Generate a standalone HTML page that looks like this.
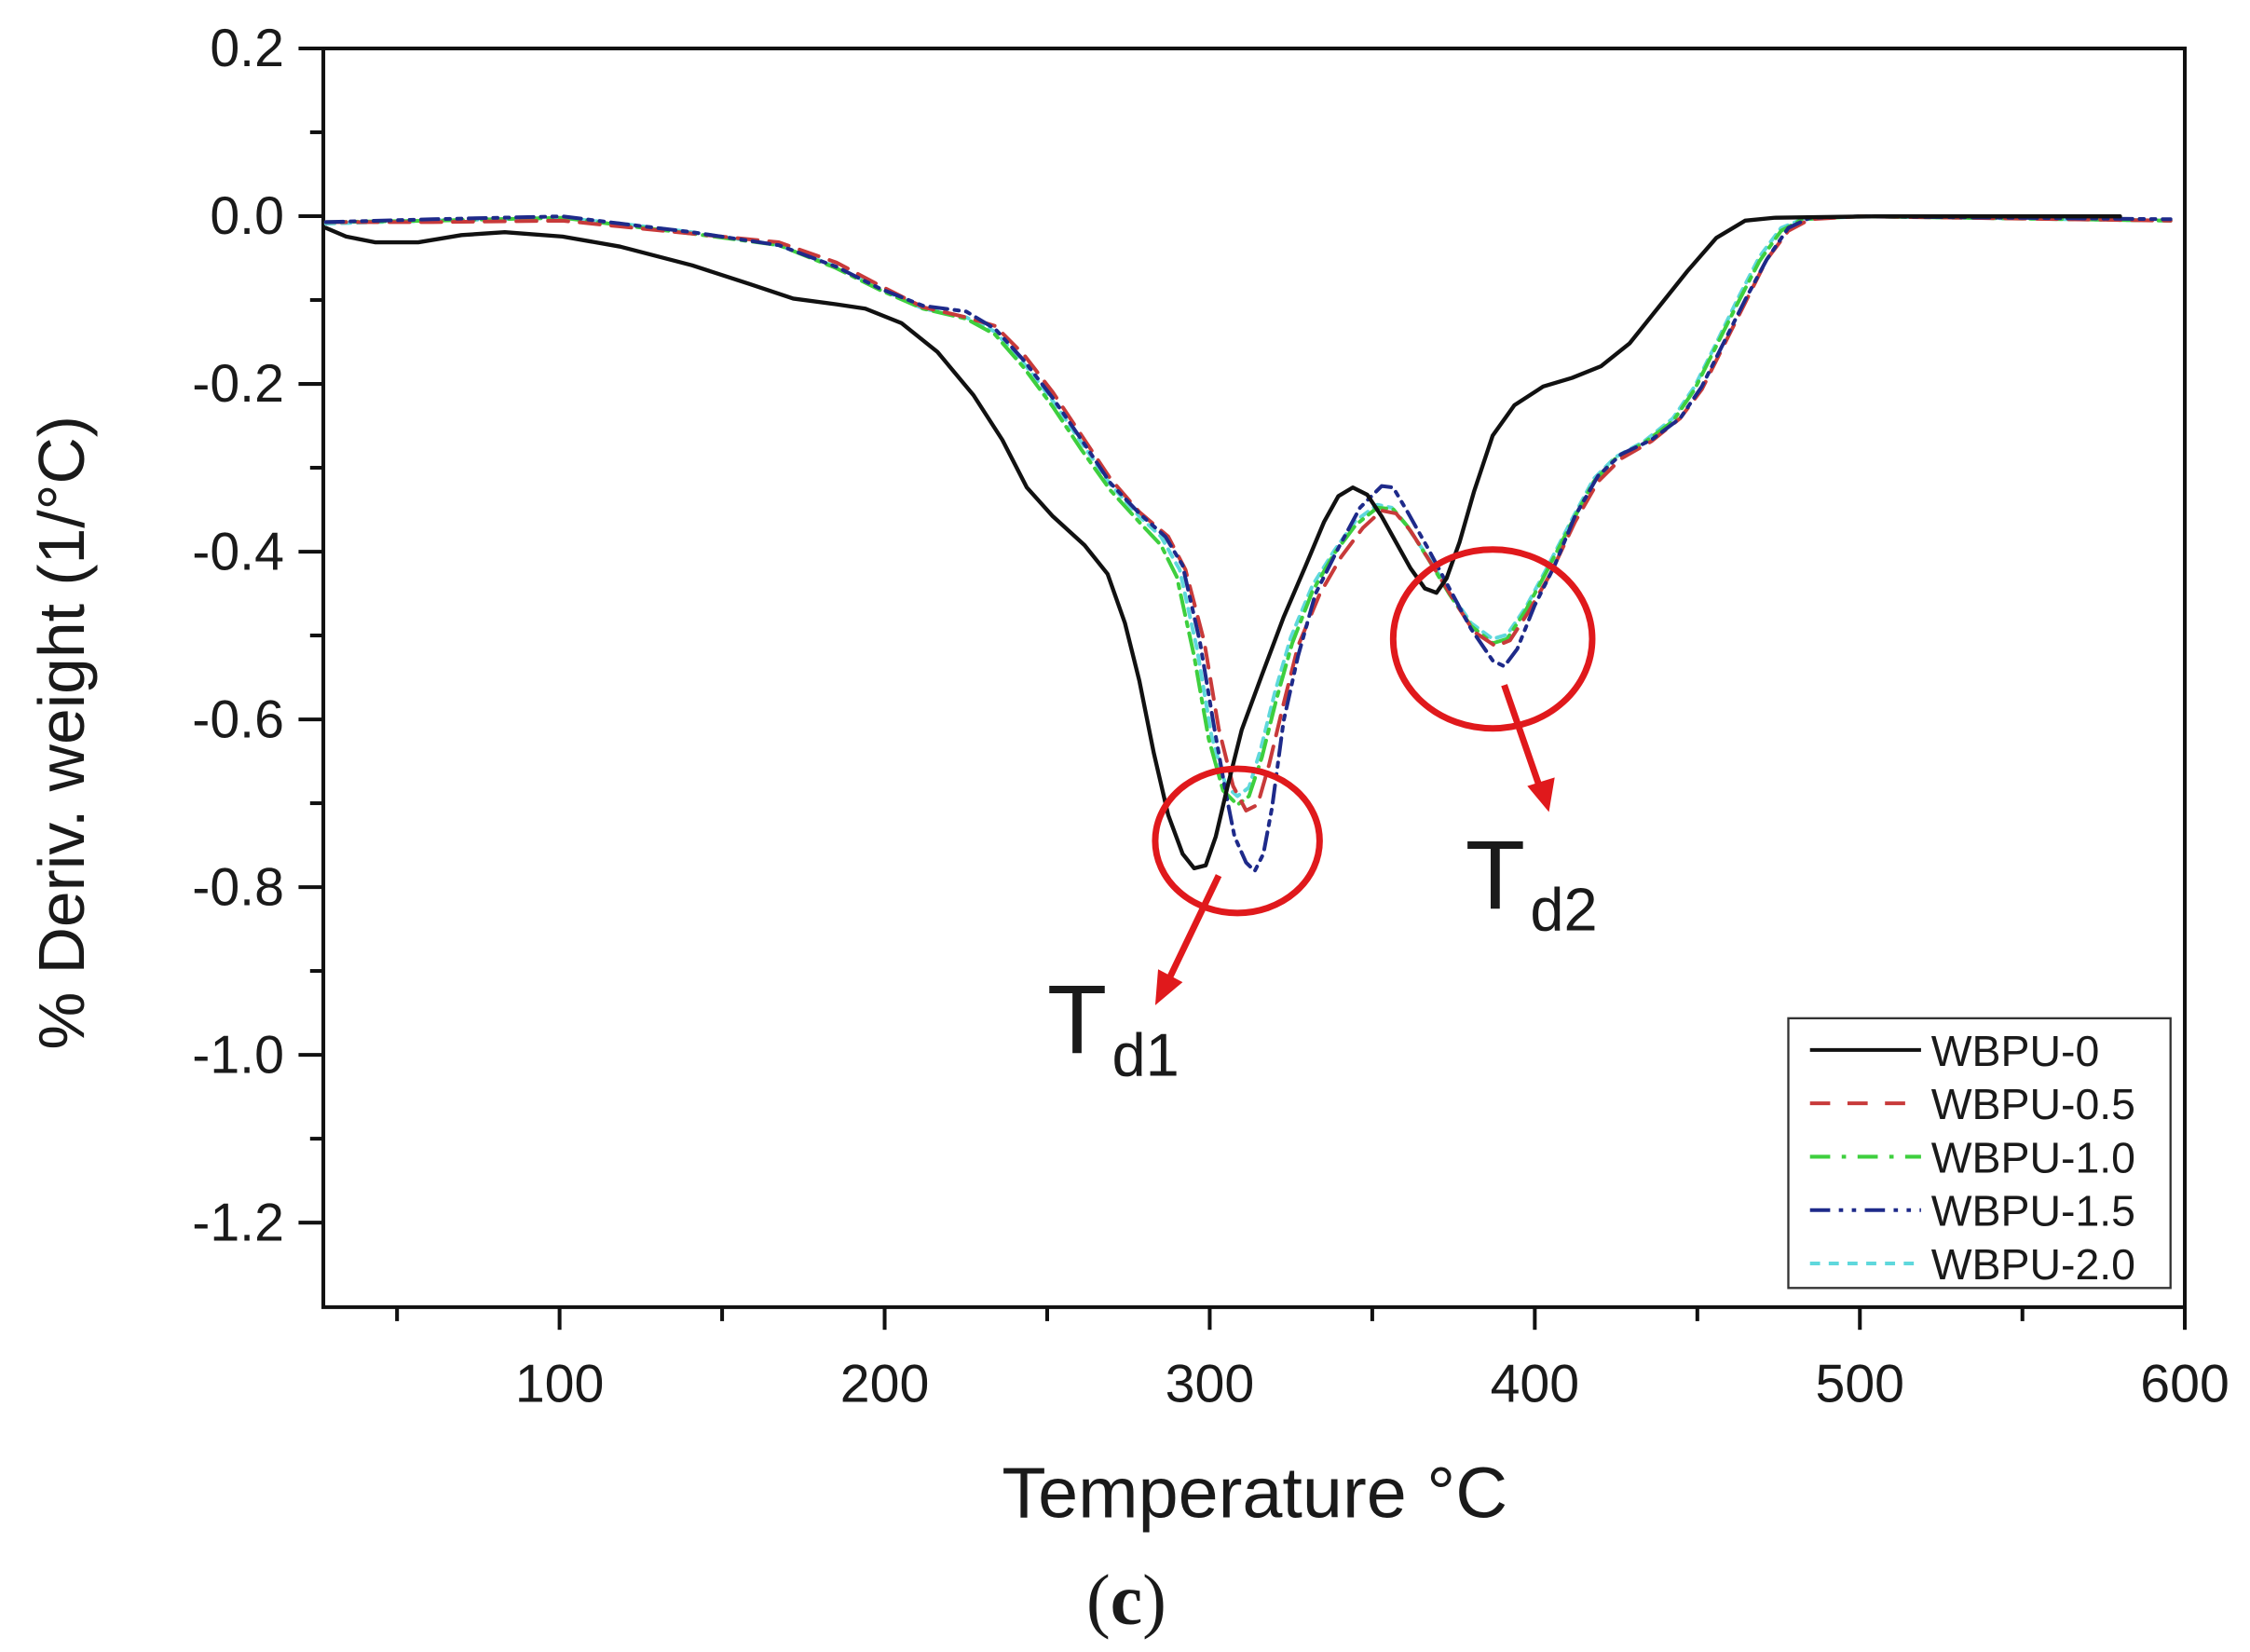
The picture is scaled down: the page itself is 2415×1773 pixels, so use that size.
<!DOCTYPE html>
<html><head><meta charset="utf-8"><style>
html,body{margin:0;padding:0;background:#fff;}
svg{display:block;}
text{font-family:"Liberation Sans",sans-serif;fill:#1a1a1a;}
</style></head><body>
<svg width="2415" height="1773" viewBox="0 0 1560.1 1145.4" preserveAspectRatio="none" xmlns="http://www.w3.org/2000/svg">
<rect x="0" y="0" width="1560.1" height="1145.4" fill="#fff"/>
<rect x="224.2" y="33.6" width="1290.7" height="872.7" fill="none" stroke="#111" stroke-width="2.6"/>
<g stroke="#111" stroke-width="2.6">
<line x1="207" y1="33.6" x2="224.2" y2="33.6"/>
<line x1="215" y1="91.7" x2="224.2" y2="91.7"/>
<line x1="207" y1="149.9" x2="224.2" y2="149.9"/>
<line x1="215" y1="208" x2="224.2" y2="208"/>
<line x1="207" y1="266.2" x2="224.2" y2="266.2"/>
<line x1="215" y1="324.3" x2="224.2" y2="324.3"/>
<line x1="207" y1="382.5" x2="224.2" y2="382.5"/>
<line x1="215" y1="440.6" x2="224.2" y2="440.6"/>
<line x1="207" y1="498.8" x2="224.2" y2="498.8"/>
<line x1="215" y1="556.9" x2="224.2" y2="556.9"/>
<line x1="207" y1="615.1" x2="224.2" y2="615.1"/>
<line x1="215" y1="673.2" x2="224.2" y2="673.2"/>
<line x1="207" y1="731.4" x2="224.2" y2="731.4"/>
<line x1="215" y1="789.5" x2="224.2" y2="789.5"/>
<line x1="207" y1="847.7" x2="224.2" y2="847.7"/>
<line x1="275.3" y1="906.3" x2="275.3" y2="916"/>
<line x1="388" y1="906.3" x2="388" y2="922"/>
<line x1="500.7" y1="906.3" x2="500.7" y2="916"/>
<line x1="613.4" y1="906.3" x2="613.4" y2="922"/>
<line x1="726.1" y1="906.3" x2="726.1" y2="916"/>
<line x1="838.8" y1="906.3" x2="838.8" y2="922"/>
<line x1="951.5" y1="906.3" x2="951.5" y2="916"/>
<line x1="1064.2" y1="906.3" x2="1064.2" y2="922"/>
<line x1="1176.9" y1="906.3" x2="1176.9" y2="916"/>
<line x1="1289.6" y1="906.3" x2="1289.6" y2="922"/>
<line x1="1402.3" y1="906.3" x2="1402.3" y2="916"/>
<line x1="1514.9" y1="906.3" x2="1514.9" y2="922"/>
</g>
<g font-size="37" text-anchor="end">
<text x="197" y="46">0.2</text>
<text x="197" y="162.3">0.0</text>
<text x="197" y="278.6">-0.2</text>
<text x="197" y="394.9">-0.4</text>
<text x="197" y="511.2">-0.6</text>
<text x="197" y="627.5">-0.8</text>
<text x="197" y="743.8">-1.0</text>
<text x="197" y="860.1">-1.2</text>
</g>
<g font-size="37" text-anchor="middle">
<text x="388" y="972">100</text>
<text x="613.4" y="972">200</text>
<text x="838.8" y="972">300</text>
<text x="1064.2" y="972">400</text>
<text x="1289.6" y="972">500</text>
<text x="1514.9" y="972">600</text>
</g>
<text x="870" y="1052" font-size="50" text-anchor="middle">Temperature °C</text>
<text transform="translate(58,508) rotate(-90)" font-size="45" text-anchor="middle">% Deriv. weight (1/°C)</text>
<text x="781" y="1126" font-size="50" text-anchor="middle" style="font-family:'Liberation Serif',serif">(<tspan font-weight="bold">c</tspan>)</text>

<g fill="none" stroke-linejoin="round" stroke-linecap="round">
<path stroke="#5fd8dc" stroke-width="2.6" stroke-dasharray="6,5" d="M226,155 L300,153 L390,151 L430,155 L480,161 L540,170 L580,185 L610,200 L640,214 L670,220 L690,230 L710,252 L730,278 L750,307 L770,336 L790,358 L805,372 L818,395 L830,450 L840,510 L850,545 L858,552 L866,546 L874,520 L884,480 L895,442 L910,406 L925,382 L940,361 L955,350 L965,352 L975,364 L990,386 L1005,410 L1020,432 L1035,443 L1045,440 L1058,421 L1072,395 L1090,360 L1105,332 L1120,317 L1140,306 L1160,290 L1175,268 L1190,238 L1205,207 L1220,178 L1235,158 L1250,152 L1290,150 L1505,153"/>
<path stroke="#3ecf3e" stroke-width="2.6" stroke-dasharray="14,5,3,5" d="M226,154 L300,153 L390,151 L430,156 L480,162 L540,170 L580,186 L610,201 L640,214 L670,221 L690,232 L710,255 L730,282 L750,312 L770,340 L790,362 L805,378 L816,400 L828,455 L838,512 L848,548 L858,558 L866,552 L875,525 L885,485 L896,446 L910,410 L925,384 L940,364 L955,352 L966,353 L976,365 L990,387 L1005,412 L1020,434 L1035,446 L1045,443 L1058,423 L1072,397 L1090,362 L1105,334 L1120,318 L1140,307 L1160,292 L1175,270 L1190,240 L1205,210 L1220,181 L1235,160 L1250,152 L1290,150 L1505,153"/>
<path stroke="#c83a3a" stroke-width="2.6" stroke-dasharray="14,8" d="M226,154 L300,154 L390,153 L430,157 L480,162 L540,168 L580,182 L610,198 L640,213 L670,220 L690,226 L710,246 L730,272 L750,302 L770,332 L790,355 L810,372 L822,395 L835,445 L845,505 L855,545 L864,562 L872,558 L880,530 L890,488 L900,448 L915,412 L930,386 L945,366 L958,354 L968,356 L978,368 L992,390 L1008,416 L1022,438 L1037,448 L1047,444 L1060,424 L1075,398 L1092,362 L1108,334 L1124,318 L1145,306 L1165,290 L1180,270 L1195,240 L1210,210 L1225,180 L1240,160 L1255,152 L1290,150 L1505,153"/>
<path stroke="#1e2a8a" stroke-width="2.6" stroke-dasharray="12,5,3,5,3,5" d="M226,154 L300,152 L390,150 L430,155 L480,161 L540,170 L580,185 L610,200 L640,212 L670,216 L690,228 L710,250 L730,276 L750,305 L770,335 L790,356 L808,372 L820,392 L832,445 L842,505 L850,550 L856,580 L864,598 L870,604 L876,592 L882,560 L890,500 L900,455 L912,412 L928,380 L943,352 L958,337 L966,338 L976,355 L990,380 L1005,408 L1020,436 L1035,458 L1043,462 L1052,450 L1064,420 L1078,392 L1092,358 L1108,330 L1124,315 L1145,305 L1165,290 L1180,268 L1195,238 L1210,208 L1225,180 L1240,158 L1255,151 L1290,150 L1505,152"/>
<path stroke="#111" stroke-width="2.8" d="M226,158 L240,164 L260,168 L290,168 L320,163 L350,161 L390,164 L430,171 L480,184 L520,197 L550,207 L580,211 L600,214 L625,224 L650,244 L675,274 L695,305 L712,338 L730,358 L752,378 L768,398 L780,432 L790,472 L800,522 L810,565 L820,592 L828,602 L836,600 L843,580 L851,546 L861,506 L875,468 L890,428 L905,393 L918,362 L928,344 L938,338 L948,343 L958,358 L968,376 L978,394 L988,408 L996,411 L1003,401 L1012,376 L1022,341 L1035,302 L1050,281 L1070,268 L1090,262 L1110,254 L1130,238 L1150,213 L1170,188 L1190,165 L1210,153 L1230,151 L1300,150 L1470,150"/>
</g>

<g stroke="#e0191c" stroke-width="4.5" fill="none">
<ellipse cx="858" cy="583" rx="57" ry="50"/>
<ellipse cx="1035" cy="443" rx="69" ry="62"/>
<line x1="845" y1="607" x2="810" y2="680"/>
<line x1="1043" y1="475" x2="1068" y2="547"/>
</g>
<polygon points="801,697 803,672 820,681" fill="#e0191c"/>
<polygon points="1074,563 1059,545 1078,539" fill="#e0191c"/>
<text x="726" y="730" font-size="68">T</text>
<text x="771" y="746" font-size="42">d1</text>
<text x="1016" y="630" font-size="68">T</text>
<text x="1061" y="645" font-size="42">d2</text>

<rect x="1240" y="706" width="265" height="187" fill="#fff" stroke="#333" stroke-width="1.5"/>
<g stroke-width="2.6" fill="none">
<line x1="1255" y1="728" x2="1332" y2="728" stroke="#111"/>
<line x1="1255" y1="765" x2="1332" y2="765" stroke="#c83a3a" stroke-dasharray="14,12"/>
<line x1="1255" y1="802" x2="1332" y2="802" stroke="#3ecf3e" stroke-dasharray="14,8,3,8"/>
<line x1="1255" y1="839" x2="1332" y2="839" stroke="#1e2a8a" stroke-dasharray="14,6,3,6,3,6"/>
<line x1="1255" y1="876" x2="1332" y2="876" stroke="#5fd8dc" stroke-dasharray="7,6"/>
</g>
<g font-size="30">
<text x="1339" y="739">WBPU-0</text>
<text x="1339" y="776">WBPU-0.5</text>
<text x="1339" y="813">WBPU-1.0</text>
<text x="1339" y="850">WBPU-1.5</text>
<text x="1339" y="887">WBPU-2.0</text>
</g>
</svg>
</body></html>
